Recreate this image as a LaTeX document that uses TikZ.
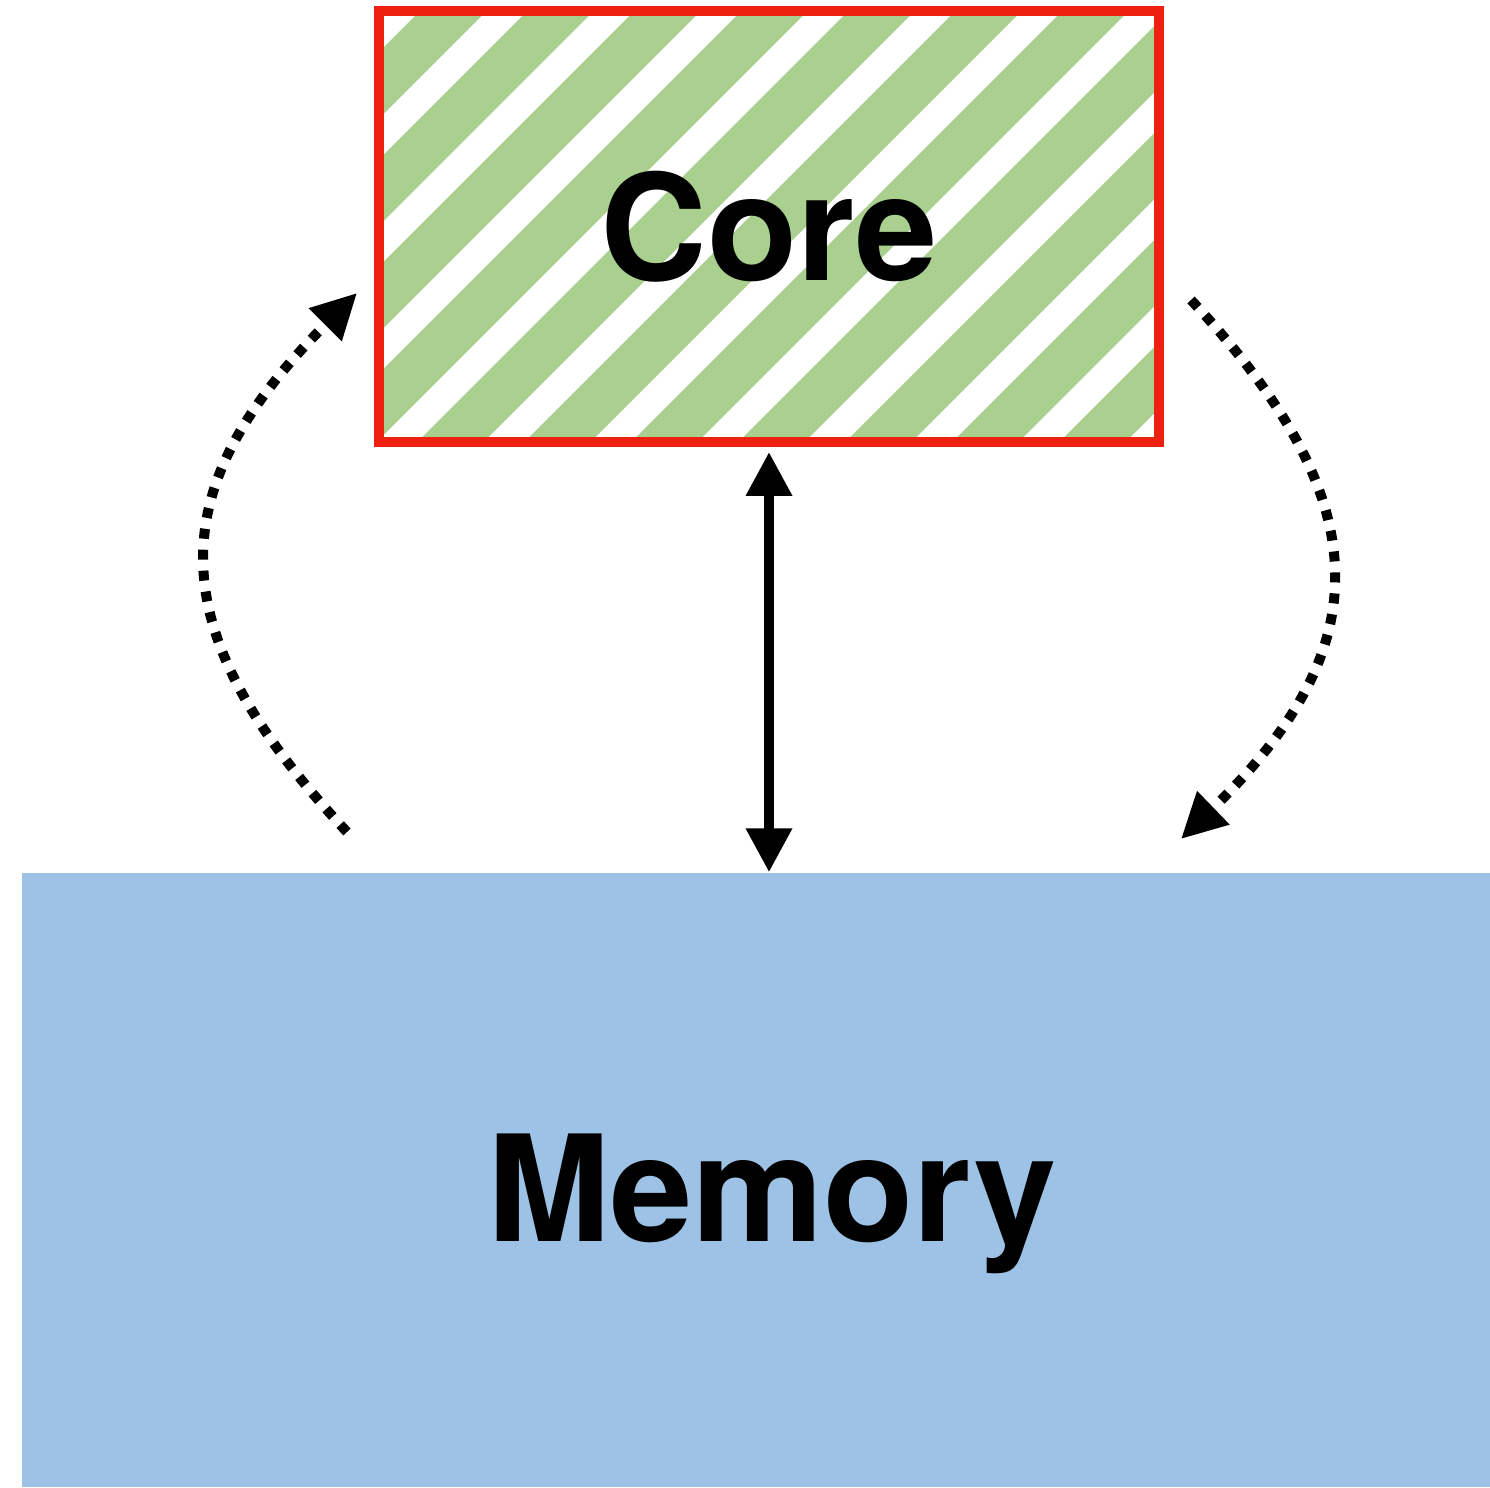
\documentclass[tikz,border=0pt]{standalone}
\usepackage{fontspec}
\setsansfont{TeX Gyre Heros}
\usetikzlibrary{arrows.meta,calc}

\definecolor{coregreen}{HTML}{A9D08E}
\definecolor{corered}{HTML}{EE2010}
\definecolor{memblue}{HTML}{9DC2E5}

\begin{document}
\begin{tikzpicture}[font=\sffamily\bfseries\fontsize{42}{50}\selectfont,
    corestripe/.style={coregreen, line width=0.47cm},
    corebox/.style={draw=corered, line width=0.1cm, fill=white,
      minimum width=7.8cm, minimum height=4.31cm, inner sep=0pt,
      path picture={\foreach \i in {-2,...,10}
        \draw[corestripe] ($(path picture bounding box.center)+({\i*1.07-6.845},-2.605)$) -- ++(5.6,5.6);}},
    membox/.style={fill=memblue, minimum width=14.68cm, minimum height=6.14cm, inner sep=0pt},
    link/.style={line width=0.1cm, {Triangle[length=0.44cm,width=0.44cm]}-{Triangle[length=0.44cm,width=0.44cm]}},
    swap/.style={line width=0.1cm, dash pattern=on 0.1cm off 0.11cm,
      -{Triangle[length=0.45cm,width=0.44cm]}}]
  \useasboundingbox (0,0) rectangle (14.9,14.87);
  % boxes
  \node[corebox] (core) at (7.69,12.605) {Core};
  \node[membox] (mem) at (7.56,3.07) {};
  \node[anchor=base] (memlabel) at (7.72,2.45) {Memory};
  % core <-> memory
  \draw[link, shorten <=0.05cm] (core.south) -- (core.south |- mem.north);
  % swap in / swap out
  \coordinate (inbot) at (3.47,6.55);
  \coordinate (intop) at (3.57,11.94);
  \coordinate (outtop) at (11.91,11.87);
  \coordinate (outbot) at (11.81,6.48);
  \draw[swap] (inbot) to[out=133, in=225, looseness=1.32] (intop);
  \draw[swap] (outtop) to[out=313, in=44, looseness=1.31] (outbot);
\end{tikzpicture}
\end{document}
